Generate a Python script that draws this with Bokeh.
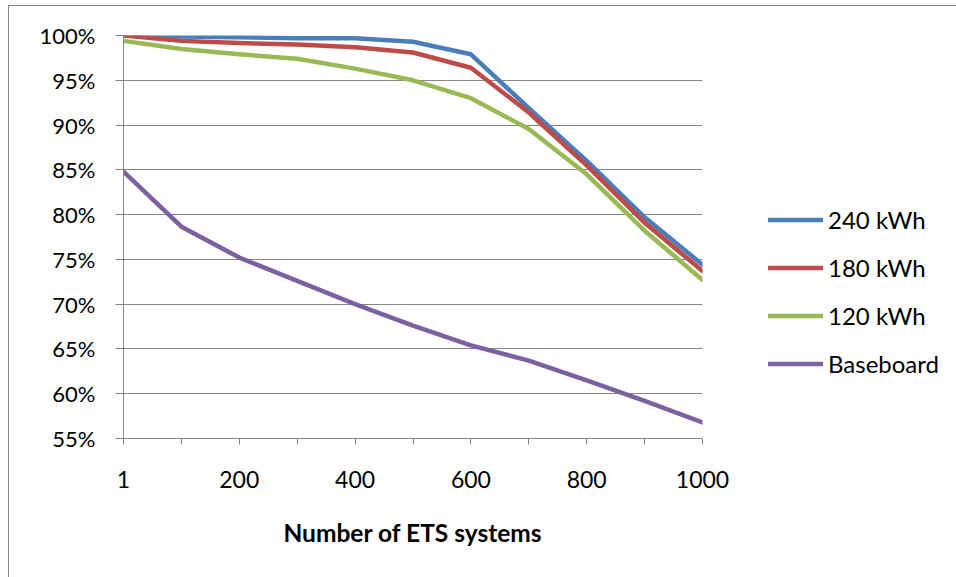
from bokeh.plotting import figure
from bokeh.models import FixedTicker, NumeralTickFormatter, Legend, LegendItem, Range1d
from bokeh.embed import file_html
from bokeh.resources import INLINE

categories = ["1", "100", "200", "300", "400", "500", "600", "700", "800", "900", "1000"]
tick_labels = ["1", "", "200", "", "400", "", "600", "", "800", "", "1000"]
y_ticks = [0.55, 0.60, 0.65, 0.70, 0.75, 0.80, 0.85, 0.90, 0.95, 1.00]

kwh240 = [1.000, 0.999, 0.998, 0.997, 0.997, 0.993, 0.979, 0.919, 0.860, 0.797, 0.744]
kwh180 = [1.000, 0.994, 0.9915, 0.990, 0.987, 0.981, 0.964, 0.914, 0.855, 0.791, 0.737]
kwh120 = [0.994, 0.985, 0.979, 0.974, 0.963, 0.950, 0.930, 0.8955, 0.845, 0.782, 0.727]
baseboard = [0.848, 0.7865, 0.752, 0.726, 0.700, 0.676, 0.654, 0.637, 0.615, 0.592, 0.568]

series_names = ["240 kWh", "180 kWh", "120 kWh", "Baseboard"]
series_values = [kwh240, kwh180, kwh120, baseboard]
series_colors = ["#4A7EBB", "#BE4B48", "#98B954", "#7D60A0"]

FONT = "Lato"
GRAY = "#878787"

xs = list(range(len(categories)))

p = figure(frame_width=579, frame_height=403, output_backend="svg", toolbar_location=None,
           x_range=Range1d(0, len(categories) - 1), y_range=Range1d(0.55, 1.0),
           min_border_left=114, min_border_right=254, min_border_top=29, min_border_bottom=139)
p.styles = {"margin-left": "8px", "margin-top": "5px",
            "border-left": f"1px solid {GRAY}", "border-top": f"1px solid {GRAY}"}
p.outline_line_color = None
p.background_fill_color = "white"
p.border_fill_color = "white"

p.xgrid.visible = False
p.ygrid.grid_line_color = GRAY
p.ygrid.grid_line_width = 1
p.ygrid.ticker = FixedTicker(ticks=y_ticks)

p.xaxis.ticker = FixedTicker(ticks=xs)
p.xaxis.major_label_overrides = {i: t for i, t in zip(xs, tick_labels)}
p.xaxis.axis_label = "Number of ETS systems"
p.xaxis.axis_label_text_font = FONT
p.xaxis.axis_label_text_font_style = "bold"
p.xaxis.axis_label_text_font_size = "24.5px"
p.xaxis.axis_label_text_color = "black"
p.xaxis.axis_label_standoff = 27
p.xaxis.major_label_standoff = 26
p.xaxis.major_tick_out = 6
p.xaxis.major_tick_in = 0
p.xaxis.major_label_text_font_size = "23px"

p.yaxis.ticker = FixedTicker(ticks=y_ticks)
p.yaxis.formatter = NumeralTickFormatter(format="0%")
p.yaxis.major_tick_out = 8
p.yaxis.major_tick_in = 0
p.yaxis.major_label_standoff = 20
p.yaxis.major_label_text_font_size = "22px"

for ax in (p.xaxis, p.yaxis):
    ax.minor_tick_line_color = None
    ax.axis_line_color = GRAY
    ax.major_tick_line_color = GRAY
    ax.major_label_text_font = FONT
    ax.major_label_text_color = "black"

items = []
for name, vals, col in zip(series_names, series_values, series_colors):
    r = p.line(xs, vals, line_color=col, line_width=4.5, line_join="round", line_cap="round")
    items.append(LegendItem(label=name, renderers=[r]))

legend = Legend(items=items, location=(66, 60), glyph_width=55, glyph_height=29,
                label_height=29, spacing=19, label_standoff=5, padding=0, margin=0,
                border_line_color=None, background_fill_alpha=0,
                label_text_font=FONT, label_text_font_size="24px", label_text_color="black")
p.add_layout(legend, "right")

open("out.html", "w").write(file_html(p, INLINE))
